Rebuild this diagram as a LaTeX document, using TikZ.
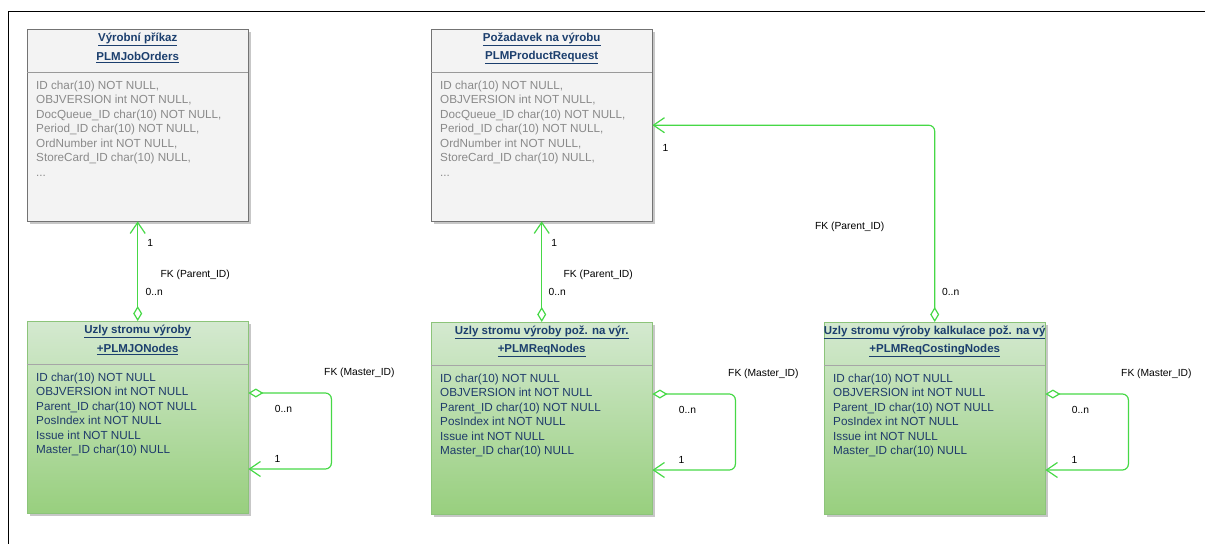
\documentclass[tikz,border=0pt]{standalone}
\usepackage{fontspec}
\setmainfont{Liberation Sans}
\usetikzlibrary{calc}
\usetikzlibrary{arrows.meta}
\usetikzlibrary{shadows}
\definecolor{fk-green}{HTML}{46D846}
\definecolor{title-blue}{HTML}{1C3F6E}
\definecolor{row-navy}{HTML}{1F3B6B}
\definecolor{row-gray}{HTML}{8A8A8A}
\definecolor{box-gray}{HTML}{F3F3F3}
\definecolor{green-top}{HTML}{D4E9D0}
\definecolor{green-bottom}{HTML}{98CF7E}
\definecolor{green-edge}{HTML}{8CC47A}
\tikzstyle{tableshadow}=[drop shadow={shadow xshift=2.5pt,shadow yshift=-2.5pt,fill=black!22,opacity=1}]
\tikzstyle{graybox}=[tableshadow,draw=black!55,fill=box-gray,minimum width=221pt,minimum height=192pt,inner sep=0pt]
\tikzstyle{greenbox}=[tableshadow,draw=green-edge,top color=green-top,bottom color=green-bottom,minimum width=221pt,minimum height=192pt,inner sep=0pt]
\tikzstyle{grayrule}=[black!40]
\tikzstyle{greenrule}=[black!35]
\tikzstyle{tabletitle}=[inner sep=0pt,text=title-blue,font=\fontsize{11.5}{14}\selectfont\bfseries]
\tikzstyle{grayrows}=[anchor=north west,inner sep=0pt,align=left,text=row-gray,font=\fontsize{11.7}{14.5}\selectfont]
\tikzstyle{greenrows}=[anchor=north west,inner sep=0pt,align=left,text=row-navy,font=\fontsize{11.7}{14.5}\selectfont]
\tikzstyle{fkline}=[fk-green,line width=1.2pt,rounded corners=6pt,{Diamond[open,length=15pt,width=9pt]}-{Straight Barb[length=11pt,width=15pt]}]
\tikzstyle{fklabel}=[inner sep=0pt,font=\fontsize{10.3}{12}\selectfont]
% table: [gray/green] {name} {left} {top} {title} {code} {rows}
\newcommand{\dbtable}[7][gray]{
	\node[#1box,anchor=north west] (#2) at (#3,#4) {};
	\draw[#1rule] ($(#2.north west)+(0,-43.5)$) -- ($(#2.north east)+(0,-43.5)$);
	\node[tabletitle] (#2-name) at ($(#2.north)+(0,-10.5)$) {\underline{#5}};
	\node[tabletitle] (#2-code) at ($(#2.north)+(0,-28.5)$) {\underline{#6}};
	\node[#1rows] (#2-rows) at ($(#2.north west)+(9,-51.5)$) {#7};
}
% FK (Master_ID) loop on the right side of a node table
\newcommand{\selfloop}[1]{
	\coordinate (#1-from) at ($(#1.north east)+(0,-72)$);
	\coordinate (#1-to) at ($(#1.north east)+(0,-148)$);
	\draw[fkline] (#1-from) -- ++(83,0) |- (#1-to);
	\node[fklabel] (#1-fk) at ($(#1-from)+(111,20)$) {FK (Master\_ID)};
	\node[fklabel] (#1-many) at ($(#1-from)+(35,-16)$) {0..n};
	\node[fklabel] (#1-one) at ($(#1-to)+(29,10)$) {1};
}
\newcommand{\headrows}{ID char(10) NOT NULL,\\OBJVERSION int NOT NULL,\\DocQueue\_ID char(10) NOT NULL,\\Period\_ID char(10) NOT NULL,\\OrdNumber int NOT NULL,\\StoreCard\_ID char(10) NULL,\\...}
\newcommand{\noderows}{ID char(10) NOT NULL\\OBJVERSION int NOT NULL\\Parent\_ID char(10) NOT NULL\\PosIndex int NOT NULL\\Issue int NOT NULL\\Master\_ID char(10) NULL}

\begin{document}
\begin{tikzpicture}[x=1pt,y=1pt]
	\useasboundingbox (0,0) rectangle (1205,-544);
	% frame
	\draw[black,line width=1pt] (1205,-11) -- (8,-11) -- (8,-544);
	% tables
	\dbtable{joborders}{27}{-29}{Výrobní příkaz}{PLMJobOrders}{\headrows}
	\dbtable{request}{431}{-29}{Požadavek na výrobu}{PLMProductRequest}{\headrows}
	\dbtable[green]{jonodes}{27}{-321}{Uzly stromu výroby}{+PLMJONodes}{\noderows}
	\dbtable[green]{reqnodes}{431}{-322}{Uzly stromu výroby pož. na výr.}{+PLMReqNodes}{\noderows}
	\dbtable[green]{costnodes}{824}{-322}{Uzly stromu výroby kalkulace pož. na vý}{+PLMReqCostingNodes}{\noderows}
	% FK (Parent_ID) links
	\draw[fkline] (jonodes.north) -- (joborders.south);
	\node[fklabel] (jo-one) at ($(joborders.south)+(12.5,-22)$) {1};
	\node[fklabel] (jo-fk) at ($(joborders.south)+(57.5,-53)$) {FK (Parent\_ID)};
	\node[fklabel] (jo-many) at ($(jonodes.north)+(16.5,29)$) {0..n};
	\draw[fkline] (reqnodes.north) -- (request.south);
	\node[fklabel] (req-one) at ($(request.south)+(12.5,-22)$) {1};
	\node[fklabel] (req-fk) at ($(request.south)+(56.5,-53)$) {FK (Parent\_ID)};
	\node[fklabel] (req-many) at ($(reqnodes.north)+(15.5,30)$) {0..n};
	\draw[fkline] (costnodes.north) |- (request.east);
	\node[fklabel] (cost-one) at ($(request.east)+(13,-23)$) {1};
	\node[fklabel] (cost-fk) at ($(costnodes.north)+(-85,95)$) {FK (Parent\_ID)};
	\node[fklabel] (cost-many) at ($(costnodes.north)+(16,30)$) {0..n};
	% FK (Master_ID) loops
	\selfloop{jonodes}
	\selfloop{reqnodes}
	\selfloop{costnodes}
\end{tikzpicture}
\end{document}
